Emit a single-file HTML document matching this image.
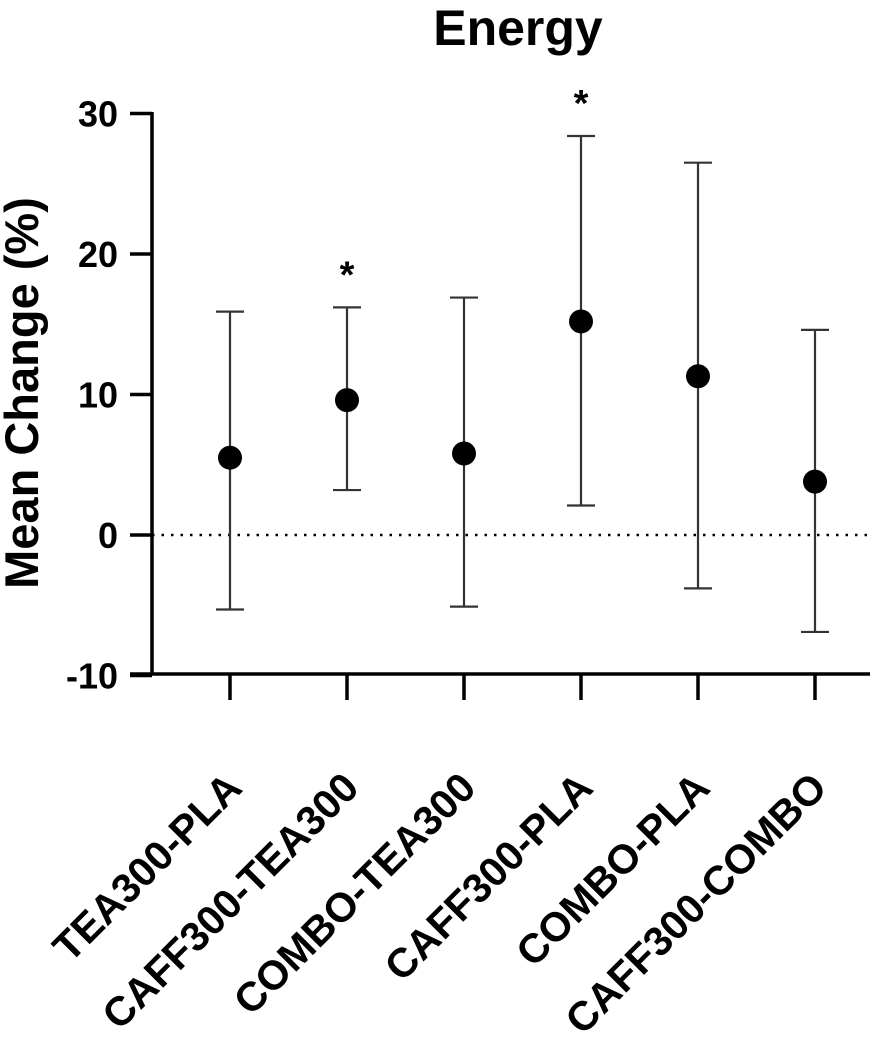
<!DOCTYPE html>
<html><head><meta charset="utf-8"><style>body{margin:0;background:#fff}</style></head>
<body>
<svg id="chart" width="894" height="1044" xmlns="http://www.w3.org/2000/svg" font-family="Liberation Sans, Arial, sans-serif" font-weight="bold">
<text x="518" y="45" font-size="50" text-anchor="middle">Energy</text>
<text transform="translate(38,393) rotate(-90)" font-size="47" text-anchor="middle">Mean Change (%)</text>
<g id="plot"></g>
</svg>
<script>
const categories=["TEA300-PLA","CAFF300-TEA300","COMBO-TEA300","CAFF300-PLA","COMBO-PLA","CAFF300-COMBO"];
const means=[5.5,9.6,5.8,15.2,11.3,3.8];
const upper=[15.9,16.2,16.9,28.4,26.5,14.6];
const lower=[-5.3,3.2,-5.1,2.1,-3.8,-6.9];
const significant=[false,true,false,true,false,false];
const yTicks=[30,20,10,0,-10];
const NS="http://www.w3.org/2000/svg";
const g=document.getElementById('plot');
const y=v=>535-v*14.05;
const x=i=>230+i*117;
function el(t,a,p){const e=document.createElementNS(NS,t);for(const k in a)e.setAttribute(k,a[k]);(p||g).appendChild(e);return e;}
let e=el('line',{x1:152,y1:y(30)-1.5,x2:152,y2:675,stroke:'#000','stroke-width':3.5});

e=el('line',{x1:130,y1:674,x2:870,y2:674,stroke:'#000','stroke-width':3.5});

e=el('line',{x1:152,y1:y(0),x2:870,y2:y(0),stroke:'#000','stroke-width':2.5,'stroke-dasharray':'2.5 7'});

yTicks.forEach(v=>{
 let t=el('line',{x1:130,y1:y(v),x2:152,y2:y(v),stroke:'#000','stroke-width':3.5});
 
 let l=el('text',{x:118,y:y(v)+13,'font-size':36,'text-anchor':'end'});l.textContent=v;
 
});
categories.forEach((c,i)=>{
 const cx=x(i);
 let t=el('line',{x1:cx,y1:674,x2:cx,y2:700,stroke:'#000','stroke-width':3.5});
 
 let l=el('text',{transform:`translate(${cx+14},790) rotate(-45)`,'font-size':41,'text-anchor':'end'});l.textContent=c;
 
 let eb=el('path',{d:`M${cx} ${y(upper[i])}V${y(lower[i])}M${cx-14} ${y(upper[i])}H${cx+14}M${cx-14} ${y(lower[i])}H${cx+14}`,stroke:'#333','stroke-width':2.2,fill:'none'});
 
 let p=el('circle',{cx:cx,cy:y(means[i]),r:12,fill:'#000'});
 
 if(significant[i]){let s=el('text',{x:cx,y:y(upper[i])-20,'font-size':38,'text-anchor':'middle'});s.textContent='*';
 }
});
</script>
</body></html>
